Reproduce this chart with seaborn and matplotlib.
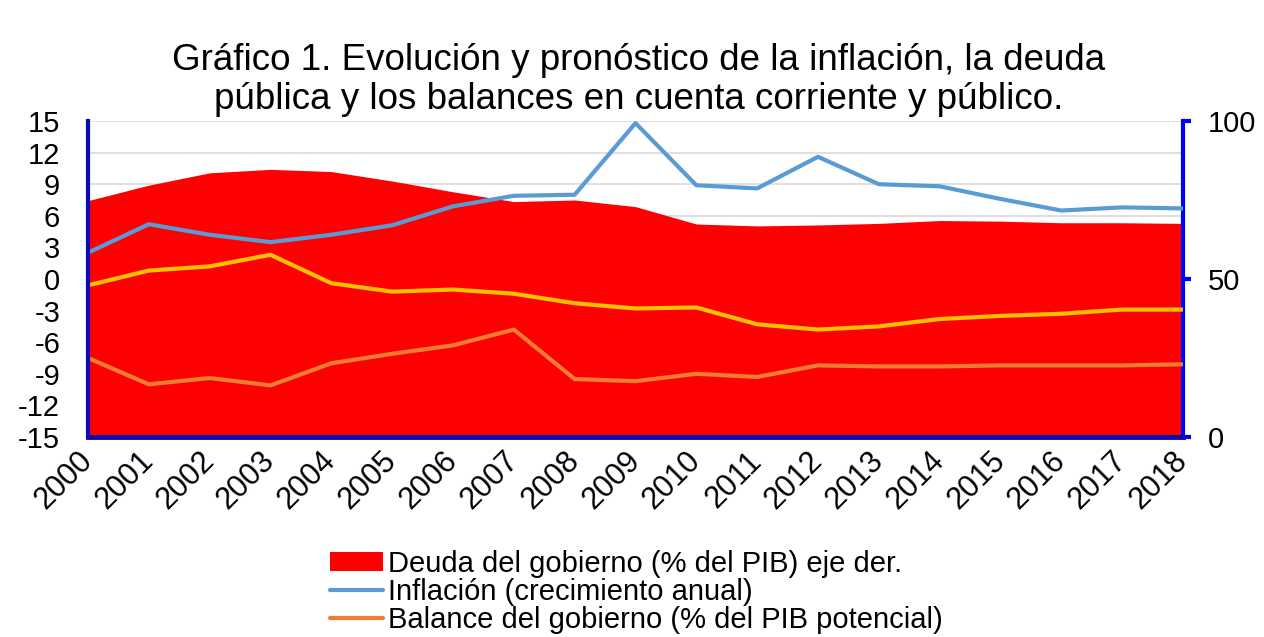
import numpy as np
import pandas as pd
import matplotlib
matplotlib.use("Agg")
import matplotlib.pyplot as plt
from matplotlib.patches import Patch
from matplotlib.lines import Line2D
import seaborn as sns

years = list(range(2000, 2019))
deuda = [74.8, 79.7, 83.6, 84.7, 84.0, 81.0, 77.6, 74.5, 75.0, 72.9,
         67.4, 66.8, 67.1, 67.6, 68.5, 68.3, 67.8, 67.8, 67.6]
inflacion = [2.5, 5.2, 4.2, 3.5, 4.2, 5.1, 6.9, 7.9, 8.0, 14.8,
             8.9, 8.6, 11.6, 9.0, 8.8, 7.6, 6.5, 6.8, 6.7]
cuenta_corriente = [-0.6, 0.8, 1.2, 2.3, -0.4, -1.2, -1.0, -1.4, -2.3, -2.8,
                    -2.7, -4.3, -4.8, -4.5, -3.8, -3.5, -3.3, -2.9, -2.9]
balance_gob = [-7.5, -10.0, -9.4, -10.1, -8.0, -7.1, -6.3, -4.8, -9.5, -9.7,
               -9.0, -9.3, -8.2, -8.3, -8.3, -8.2, -8.2, -8.2, -8.1]

title = "Gráfico 1. Evolución y pronóstico de la inflación, la deuda\npública y los balances en cuenta corriente y público."
lbl_deuda = "Deuda del gobierno (% del PIB) eje der."
lbl_infl = "Inflación (crecimiento anual)"
lbl_bal = "Balance del gobierno (% del PIB potencial)"

c_red = "#FF0000"
c_blue = "#5B9BD5"
c_yellow = "#FFC000"
c_orange = "#ED7D31"

sns.set_style("white")
plt.rcParams["font.family"] = ["Liberation Sans", "DejaVu Sans"]
plt.rcParams["axes.unicode_minus"] = False
plt.rcParams["text.color"] = "black"
plt.rcParams["xtick.color"] = "black"
plt.rcParams["ytick.color"] = "black"

df = pd.DataFrame({"year": years, "deuda": deuda, "infl": inflacion,
                   "cc": cuenta_corriente, "bal": balance_gob})

fig = plt.figure(figsize=(12.64, 6.37), dpi=100)
ax = fig.add_axes([88 / 1264, 1 - 437 / 637, 1095 / 1264, 316 / 637])
ax2 = ax.twinx()
ax2.set_zorder(0)
ax.set_zorder(1)
ax.patch.set_visible(False)

# debt area on right axis, grid on right axis so the area hides it
ax2.fill_between(df["year"], 0, df["deuda"], color=c_red, lw=0, zorder=1)
ax2.set_ylim(0, 100)
ax2.set_yticks([0, 50, 100])
ax2.set_yticks(np.arange(0, 101, 10), minor=True)
ax2.set_axisbelow(True)
ax2.grid(True, which="both", axis="y", color="#D9D9D9", lw=1.2)
ax2.tick_params(axis="y", which="major", direction="out", length=6, width=3,
                color="#0000FF", labelcolor="black", labelsize=21, pad=12,
                right=True)
ax2.tick_params(axis="y", which="minor", length=0)

sns.lineplot(data=df, x="year", y="infl", ax=ax, color=c_blue, lw=3)
sns.lineplot(data=df, x="year", y="cc", ax=ax, color=c_yellow, lw=3)
sns.lineplot(data=df, x="year", y="bal", ax=ax, color=c_orange, lw=3)

ax.set_xlim(2000, 2018)
ax.set_ylim(-15, 15)
ax.set_yticks(np.arange(-15, 16, 3))
ax.set_xticks(years)
ax.set_xticklabels([str(y) for y in years], rotation=45, ha="right",
                   va="center", rotation_mode="anchor")
ax.tick_params(axis="y", length=0, labelsize=21, pad=20)
ax.tick_params(axis="x", length=0, labelsize=22, pad=14)
ax.set_xlabel("")
ax.set_ylabel("")

for a in (ax, ax2):
    for s in a.spines.values():
        s.set_visible(False)
ax.spines["left"].set_visible(True)
ax.spines["left"].set_color("#0A0AB0")
ax.spines["left"].set_linewidth(3)
ax.spines["bottom"].set_visible(True)
ax.spines["bottom"].set_color("#0A0AB0")
ax.spines["bottom"].set_linewidth(3.5)
ax2.spines["right"].set_visible(True)
ax2.spines["right"].set_color("#0000FF")
ax2.spines["right"].set_linewidth(3)

fig.text(0.505, 1 - 80 / 637, title, ha="center", va="center", fontsize=26.5,
         linespacing=1.17)

handles = [Patch(facecolor=c_red, edgecolor="none"),
           Line2D([0], [0], color=c_blue, lw=3),
           Line2D([0], [0], color=c_orange, lw=3)]
fig.legend(handles, [lbl_deuda, lbl_infl, lbl_bal], loc="upper left",
           bbox_to_anchor=(330 / 1264, 1 - 550 / 637), frameon=False,
           fontsize=21, handlelength=1.8, handleheight=0.6, handletextpad=0.2,
           labelspacing=0.0, borderaxespad=0, borderpad=0)

fig.savefig("out.png", dpi=100)
